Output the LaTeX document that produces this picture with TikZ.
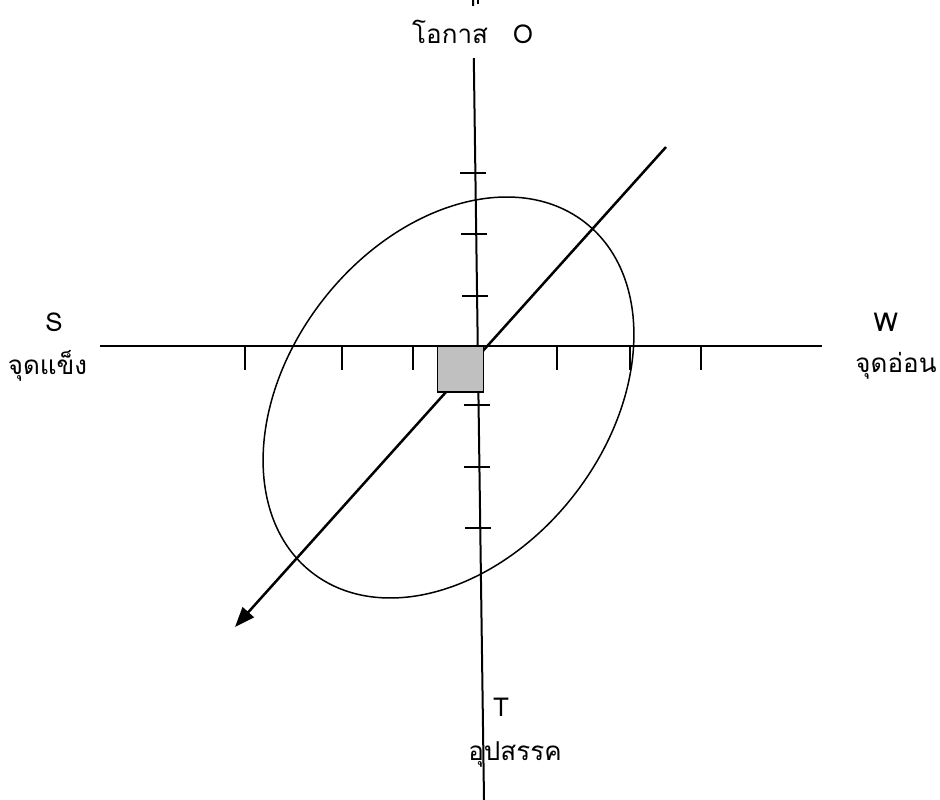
\documentclass[tikz,border=0pt]{standalone}
\usepackage{fontspec}
\newfontfamily\thaifont[Script=Thai]{Loma}
\usetikzlibrary{arrows.meta}
\definecolor{boxgray}{RGB}{192,192,192}
\begin{document}
\begin{tikzpicture}[x=1pt,y=-1pt,
  lbl/.style={font=\thaifont\fontsize{26}{30}\selectfont, inner sep=0pt},
  axis/.style={line width=2pt},
  tickmark/.style={line width=2pt},
  ring/.style={line width=1.5pt},
  arrowline/.style={line width=2.5pt, -{Triangle[length=20pt,width=15pt]}},
  centerbox/.style={draw, line width=1.5pt, fill=boxgray, minimum width=46pt, minimum height=46pt, inner sep=0pt}]
\useasboundingbox (0,0) rectangle (940,800);
% axes
\coordinate (vtop) at (473,0);
\coordinate (vbot) at (484,800);
\coordinate (hl) at (100,346);
\coordinate (hr) at (822,346);
\draw[axis] (vtop) -- (vbot);
\draw[axis] (hl) -- (hr);
% vertical ticks
\foreach \yy/\xx in {173/475.4, 234/476.2, 296/477.1, 405/478.6, 467/479.4, 528/480.3}
  \draw[tickmark] (\xx-15,\yy) -- (\xx+11,\yy);
% horizontal ticks
\foreach \xx in {245,342,413,557,630,701}
  \draw[tickmark] (\xx,346) -- (\xx,370);
% ellipse
\coordinate (ec) at (448.5,397.5);
\draw[ring, rotate around={52:(ec)}] (ec) ellipse [x radius=222pt, y radius=159pt];
% diagonal arrow
\coordinate (d1) at (666,147);
\coordinate (d2) at (235,627);
\draw[arrowline] (d1) -- (d2);
% center square
\node[centerbox] (sq) at (460.5,369) {};
% labels
\node[lbl, fill=white, minimum height=52pt, inner xsep=2pt, anchor=west] (olbl) at (410,32) {โอกาส\hspace{25pt}O};
\draw[axis] (478,0) -- (478,4);
\node[lbl] (slbl) at (54,322) {S};
\node[lbl] (sthai) at (47.5,366) {จุดแข็ง};
\node[lbl] (wlbl) at (886,322) {W};
\node[lbl] (wthai) at (896,366) {จุดอ่อน};
\node[lbl] (tlbl) at (501,707) {T};
\node[lbl] (tthai) at (515,754) {อุปสรรค};
\end{tikzpicture}
\end{document}
